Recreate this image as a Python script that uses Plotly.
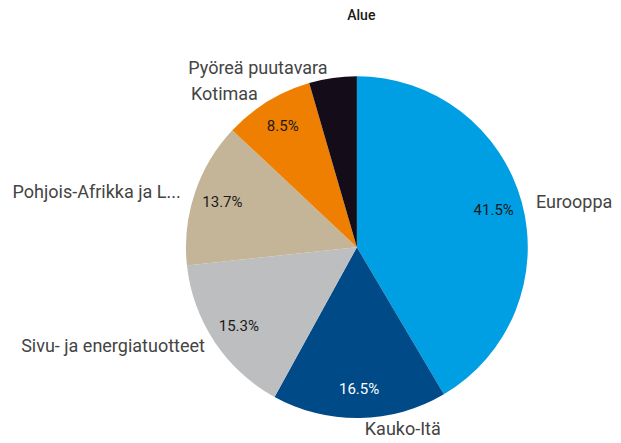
import plotly.graph_objects as go

categories = ["Eurooppa", "Kauko-Itä", "Sivu- ja energiatuotteet",
              "Pohjois-Afrikka ja L...", "Kotimaa", "Pyöreä puutavara"]
shares = [41.5, 16.5, 15.3, 13.7, 8.5, 4.5]
colors = ["#009FE3", "#004A87", "#BDBEC0", "#C5B598", "#EF7F00", "#150C19"]
pct_colors = ["#1a1a1a", "#ffffff", "#1a1a1a", "#1a1a1a", "#1a1a1a", "#150C19"]

NB = "\u00a0"
label_templates = [NB * 2 + "%{label}", "%{label}", "%{label}" + NB,
                   "%{label}" + NB * 2, "%{label}" + NB, "%{label}"]

dom = dict(x=[0.2866, 0.837], y=[0.074, 0.846])
clear = ["rgba(0,0,0,0)"] * len(shares)

fig = go.Figure()
# coloured slices
fig.add_trace(go.Pie(
    labels=categories, values=shares, sort=False, direction="clockwise",
    marker=dict(colors=colors, line=dict(width=0)),
    textinfo="none", domain=dom, showlegend=False, hoverinfo="label+percent",
    scalegroup="g",
))
# percentage labels, placed in the outer ring
fig.add_trace(go.Pie(
    labels=categories, values=shares, sort=False, direction="clockwise",
    hole=0.66,
    marker=dict(colors=clear, line=dict(width=0)),
    textinfo="percent", texttemplate="%{percent:.1%}", textposition="inside",
    insidetextorientation="horizontal",
    textfont=dict(family="Roboto", size=15, color=pct_colors),
    domain=dom, showlegend=False, hoverinfo="skip",
    scalegroup="g",
))
# category names outside
fig.add_trace(go.Pie(
    labels=categories, values=shares, sort=False, direction="clockwise",
    marker=dict(colors=clear, line=dict(width=0)),
    textinfo="label", texttemplate=label_templates, textposition="outside",
    textfont=dict(family="Roboto", size=18, color="#444444"),
    domain=dom, showlegend=False, hoverinfo="skip",
    scalegroup="g",
))
fig.update_layout(
    width=621, height=443,
    margin=dict(l=0, r=0, t=0, b=0),
    paper_bgcolor="white",
    title=dict(text="Alue", x=0.569, xanchor="center", y=0.995, yanchor="top",
               font=dict(family="Roboto", size=14, color="#1a1a1a", weight=500)),
)
fig.write_html("out.html")
